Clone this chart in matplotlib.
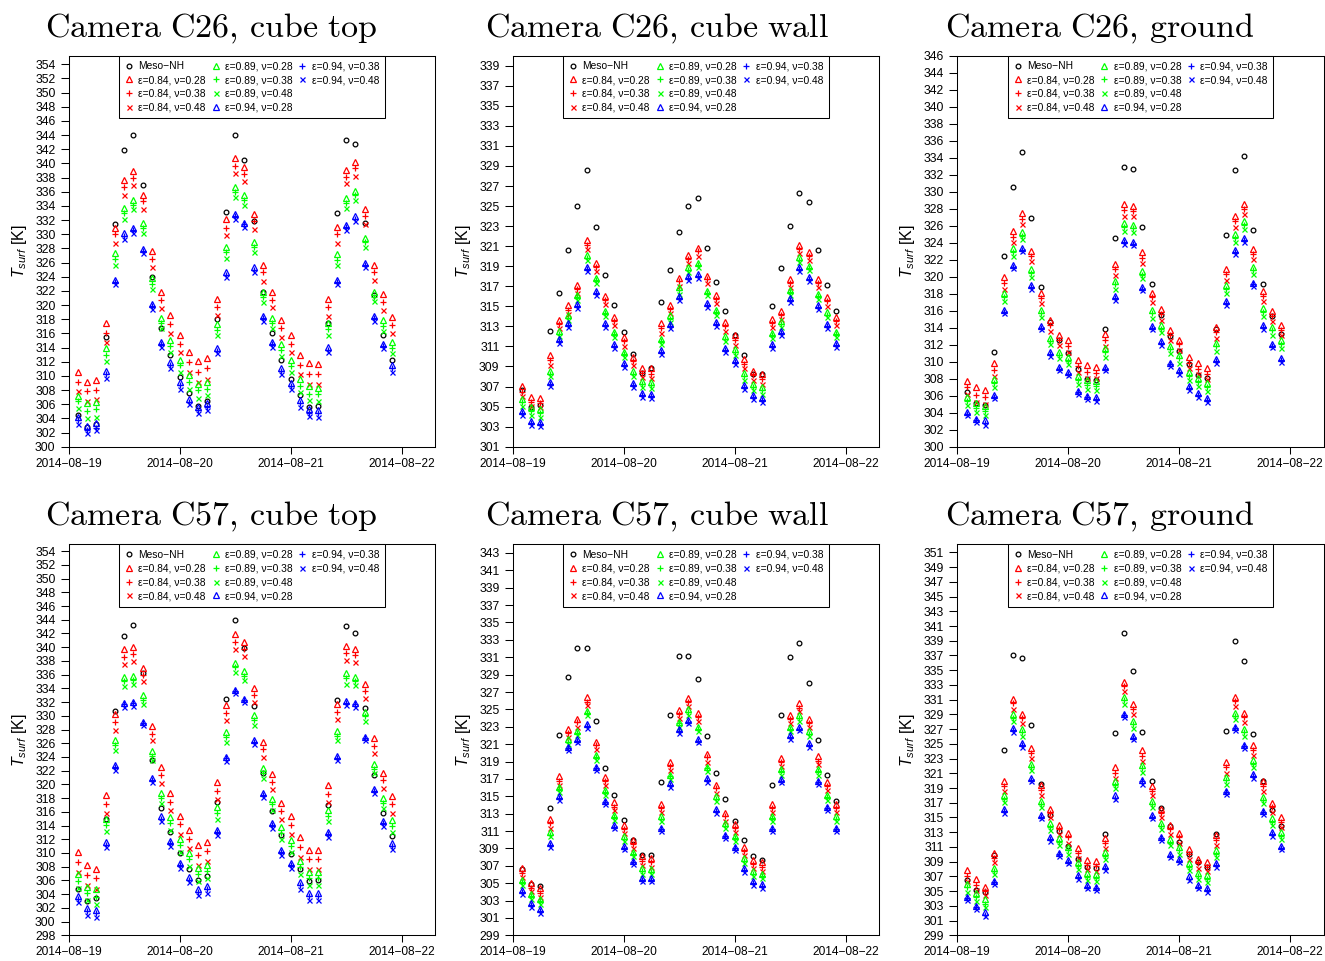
import matplotlib
matplotlib.use("Agg")
import matplotlib.pyplot as plt
import matplotlib.dates as mdates
import pandas as pd
from matplotlib.lines import Line2D

plt.rcParams["font.family"] = ["Liberation Sans", "DejaVu Sans"]
plt.rcParams["mathtext.fontset"] = "custom"
plt.rcParams["mathtext.rm"] = "Liberation Sans"
plt.rcParams["mathtext.it"] = "Liberation Sans:italic"

# surface temperature every 2 h, 19 Aug 02:00 -> 21 Aug 22:00
times = pd.date_range("2014-08-19 02:00", "2014-08-21 22:00", freq="2h")
day_ticks = pd.to_datetime(["2014-08-19", "2014-08-20", "2014-08-21", "2014-08-22"])
day_labels = ["2014\u221208\u221219", "2014\u221208\u221220", "2014\u221208\u221221", "2014\u221208\u221222"]

# ---- C26, cube top
c26_top_meso = [304.5, 302.8, 303.2, 315.5, 331.5, 341.9, 344.0, 337.0, 324.0, 316.8, 313.0, 309.8, 307.6, 305.8, 306.5, 318.0, 333.2, 344.0, 340.5, 331.9, 321.8, 316.1, 312.3, 309.5, 307.3, 305.6, 305.7, 317.4, 333.0, 343.3, 342.7, 331.6, 321.4, 315.7, 312.2]
c26_top_e84v28 = [310.6, 309.2, 309.4, 317.4, 330.9, 337.6, 338.9, 335.6, 327.6, 321.8, 318.6, 315.8, 313.3, 312.1, 312.5, 320.9, 332.1, 340.7, 339.5, 332.9, 325.6, 321.8, 317.9, 315.8, 313.0, 311.8, 311.7, 320.9, 331.0, 339.1, 340.2, 333.5, 325.6, 321.5, 318.3]
c26_top_e84v38 = [309.2, 307.8, 308.0, 316.1, 330.0, 336.6, 338.0, 334.7, 326.5, 320.7, 317.3, 314.5, 312.0, 310.6, 311.1, 319.7, 330.9, 339.6, 338.5, 331.9, 324.6, 320.7, 316.7, 314.5, 311.6, 310.3, 310.2, 319.7, 330.0, 338.1, 339.3, 332.6, 324.6, 320.4, 317.2]
c26_top_e84v48 = [307.9, 306.4, 306.7, 314.8, 328.8, 335.5, 336.9, 333.6, 325.4, 319.6, 316.1, 313.3, 310.6, 309.2, 309.6, 318.6, 329.9, 338.6, 337.5, 330.8, 323.4, 319.7, 315.5, 313.3, 310.3, 308.9, 308.8, 318.5, 328.8, 337.2, 338.2, 331.5, 323.5, 319.3, 316.0]
c26_top_e89v28 = [307.2, 306.1, 306.3, 313.9, 327.3, 333.7, 334.8, 331.6, 323.8, 318.1, 315.1, 312.3, 310.1, 308.9, 309.2, 317.3, 328.2, 336.7, 335.5, 328.9, 321.9, 318.2, 314.5, 312.2, 309.6, 308.5, 308.3, 317.4, 327.2, 335.1, 336.1, 329.5, 321.9, 317.9, 314.8]
c26_top_e89v38 = [306.4, 305.1, 305.3, 313.0, 326.5, 333.0, 334.1, 330.9, 323.0, 317.4, 314.2, 311.5, 309.2, 308.0, 308.2, 316.5, 327.5, 336.0, 334.8, 328.2, 321.2, 317.4, 313.6, 311.4, 308.6, 307.5, 307.4, 316.6, 326.4, 334.4, 335.5, 328.9, 321.2, 317.1, 314.0]
c26_top_e89v48 = [305.4, 304.1, 304.2, 312.1, 325.7, 332.2, 333.5, 330.2, 322.3, 316.7, 313.4, 310.6, 308.2, 306.9, 307.3, 315.7, 326.7, 335.3, 334.1, 327.5, 320.4, 316.7, 312.8, 310.5, 307.7, 306.6, 306.4, 315.7, 325.6, 333.7, 334.8, 328.2, 320.5, 316.3, 313.2]
c26_top_e94v28 = [304.2, 302.9, 303.3, 310.7, 323.6, 330.1, 330.9, 327.9, 320.2, 314.8, 311.9, 309.2, 306.8, 305.6, 306.1, 313.9, 324.6, 332.8, 331.6, 325.3, 318.4, 314.8, 311.1, 309.0, 306.6, 305.3, 305.2, 314.1, 323.6, 331.3, 332.5, 326.0, 318.4, 314.5, 311.5]
c26_top_e94v38 = [303.8, 302.4, 302.7, 310.2, 323.3, 329.7, 330.6, 327.6, 319.9, 314.5, 311.5, 308.7, 306.3, 305.2, 305.6, 313.5, 324.3, 332.5, 331.4, 325.0, 318.1, 314.5, 310.7, 308.6, 306.1, 304.8, 304.7, 313.6, 323.3, 331.0, 332.2, 325.6, 318.1, 314.2, 311.1]
c26_top_e94v48 = [303.2, 302.0, 302.3, 309.7, 322.9, 329.3, 330.2, 327.3, 319.5, 314.1, 311.1, 308.2, 306.0, 304.7, 305.2, 313.2, 323.9, 332.1, 331.0, 324.7, 317.8, 314.1, 310.3, 308.1, 305.6, 304.3, 304.2, 313.3, 322.9, 330.6, 331.8, 325.3, 317.8, 313.9, 310.6]

# ---- C26, cube wall
c26_wall_meso = [306.7, 305.0, 305.2, 312.5, 316.3, 320.6, 325.0, 328.6, 322.9, 318.1, 315.1, 312.4, 310.2, 308.4, 308.8, 315.4, 318.6, 322.4, 325.0, 325.8, 320.8, 317.4, 314.5, 312.1, 310.1, 308.3, 308.3, 315.0, 318.8, 323.0, 326.3, 325.4, 320.6, 317.1, 314.5]
c26_wall_e84v28 = [307.1, 306.0, 305.9, 310.1, 313.6, 315.1, 317.1, 321.6, 319.3, 316.0, 313.9, 311.9, 309.9, 308.8, 308.8, 313.3, 315.1, 317.8, 320.1, 320.8, 318.0, 316.1, 313.4, 312.1, 309.7, 308.6, 308.3, 313.7, 314.5, 317.7, 321.1, 320.4, 317.7, 315.9, 313.9]
c26_wall_e84v38 = [306.5, 305.5, 305.4, 309.6, 313.2, 314.6, 316.7, 321.1, 318.9, 315.6, 313.5, 311.5, 309.5, 308.4, 308.3, 312.8, 314.7, 317.5, 319.7, 320.5, 317.7, 315.7, 313.0, 311.6, 309.2, 308.2, 307.8, 313.3, 314.1, 317.3, 320.7, 320.0, 317.3, 315.5, 313.5]
c26_wall_e84v48 = [306.1, 305.1, 305.0, 309.1, 312.8, 314.2, 316.3, 320.7, 318.5, 315.2, 313.1, 311.0, 309.1, 308.0, 307.9, 312.3, 314.3, 317.0, 319.3, 320.0, 317.3, 315.3, 312.5, 311.1, 308.8, 307.7, 307.3, 312.9, 313.7, 316.9, 320.3, 319.6, 316.9, 315.0, 313.1]
c26_wall_e89v28 = [305.8, 305.0, 304.8, 308.6, 312.5, 314.1, 316.1, 320.1, 317.8, 314.5, 312.4, 310.4, 308.6, 307.6, 307.5, 311.7, 314.1, 316.9, 318.9, 319.3, 316.5, 314.6, 312.0, 310.7, 308.4, 307.3, 307.0, 312.3, 313.5, 316.6, 319.9, 319.0, 316.2, 314.4, 312.4]
c26_wall_e89v38 = [305.5, 304.6, 304.4, 308.3, 312.2, 313.8, 315.9, 319.8, 317.6, 314.3, 312.2, 310.2, 308.3, 307.3, 307.2, 311.5, 313.7, 316.6, 318.6, 319.1, 316.3, 314.4, 311.7, 310.4, 308.1, 307.0, 306.7, 312.1, 313.2, 316.4, 319.6, 318.8, 316.0, 314.1, 312.2]
c26_wall_e89v48 = [305.1, 304.2, 304.0, 308.1, 312.0, 313.6, 315.6, 319.6, 317.3, 314.0, 311.9, 309.9, 308.1, 307.0, 306.9, 311.2, 313.4, 316.2, 318.4, 318.9, 316.1, 314.1, 311.5, 310.1, 307.7, 306.7, 306.3, 311.8, 312.9, 316.1, 319.4, 318.6, 315.7, 313.9, 311.9]
c26_wall_e94v28 = [304.6, 303.6, 303.5, 307.5, 311.7, 313.3, 315.2, 318.9, 316.5, 313.3, 311.2, 309.3, 307.4, 306.4, 306.3, 310.6, 313.2, 316.0, 318.0, 318.2, 315.3, 313.4, 310.8, 309.6, 307.2, 306.2, 305.9, 311.2, 312.5, 315.8, 318.9, 317.9, 315.1, 313.2, 311.3]
c26_wall_e94v38 = [304.4, 303.4, 303.3, 307.3, 311.5, 313.1, 315.0, 318.7, 316.3, 313.1, 311.0, 309.1, 307.2, 306.2, 306.1, 310.4, 313.0, 315.8, 317.8, 318.0, 315.1, 313.2, 310.6, 309.4, 307.0, 306.0, 305.7, 311.0, 312.3, 315.6, 318.7, 317.7, 314.9, 313.0, 311.1]
c26_wall_e94v48 = [304.2, 303.2, 303.1, 307.1, 311.3, 312.9, 314.8, 318.5, 316.1, 312.9, 310.8, 308.9, 307.0, 306.0, 305.9, 310.2, 312.8, 315.6, 317.6, 317.8, 314.9, 313.0, 310.4, 309.2, 306.8, 305.8, 305.5, 310.8, 312.1, 315.4, 318.5, 317.5, 314.7, 312.8, 310.9]

# ---- C26, ground
c26_grd_meso = [306.4, 305.1, 304.9, 311.1, 322.4, 330.5, 334.7, 326.9, 318.8, 314.7, 312.6, 311.0, 309.1, 308.0, 307.9, 313.8, 324.5, 332.9, 332.7, 325.9, 319.2, 315.5, 313.0, 311.3, 309.7, 308.4, 308.1, 313.9, 324.9, 332.5, 334.2, 325.5, 319.1, 315.4, 313.3]
c26_grd_e84v28 = [307.7, 307.0, 306.7, 309.8, 320.0, 325.4, 327.5, 323.0, 318.1, 314.9, 313.2, 312.6, 310.2, 309.6, 309.4, 313.3, 321.5, 328.5, 328.3, 322.9, 318.1, 316.2, 313.7, 312.6, 310.6, 309.9, 309.3, 314.1, 320.9, 327.1, 328.6, 323.3, 318.3, 316.0, 314.3]
c26_grd_e84v38 = [307.0, 306.1, 305.8, 309.0, 319.3, 324.7, 326.8, 322.4, 317.5, 314.3, 312.6, 311.9, 309.5, 308.8, 308.7, 312.6, 320.9, 327.8, 327.7, 322.2, 317.6, 315.6, 313.1, 312.1, 309.9, 309.2, 308.6, 313.5, 320.3, 326.5, 328.0, 322.7, 317.7, 315.4, 313.7]
c26_grd_e84v48 = [306.2, 305.3, 305.0, 308.3, 318.6, 324.1, 326.2, 321.8, 316.9, 313.6, 312.0, 311.2, 308.8, 308.1, 308.1, 311.9, 320.2, 327.2, 327.1, 321.6, 317.0, 314.9, 312.6, 311.4, 309.3, 308.6, 308.0, 312.8, 319.6, 325.9, 327.4, 322.1, 317.1, 314.8, 313.2]
c26_grd_e89v28 = [305.9, 305.1, 304.8, 308.0, 318.1, 323.4, 325.3, 320.9, 316.1, 312.8, 311.2, 310.5, 308.3, 307.8, 307.7, 311.6, 319.5, 326.3, 326.1, 320.7, 316.1, 314.3, 311.9, 310.8, 308.8, 308.1, 307.5, 312.2, 319.0, 325.0, 326.5, 321.2, 316.3, 314.1, 312.5]
c26_grd_e89v38 = [305.4, 304.6, 304.2, 307.5, 317.6, 322.9, 324.8, 320.4, 315.7, 312.4, 310.8, 310.1, 307.9, 307.3, 307.2, 311.1, 319.1, 325.8, 325.7, 320.2, 315.7, 313.9, 311.5, 310.4, 308.3, 307.6, 307.0, 311.8, 318.5, 324.6, 326.1, 320.8, 315.9, 313.7, 312.1]
c26_grd_e89v48 = [304.9, 304.1, 303.7, 307.0, 317.1, 322.4, 324.4, 320.0, 315.3, 312.1, 310.4, 309.7, 307.4, 306.8, 306.7, 310.6, 318.6, 325.4, 325.3, 319.8, 315.2, 313.5, 311.0, 309.9, 307.9, 307.1, 306.5, 311.3, 318.1, 324.1, 325.6, 320.3, 315.4, 313.2, 311.6]
c26_grd_e94v28 = [304.1, 303.3, 303.1, 306.1, 316.1, 321.4, 323.4, 319.0, 314.2, 311.1, 309.4, 308.8, 306.6, 306.0, 305.8, 309.4, 317.7, 324.3, 324.1, 318.8, 314.2, 312.4, 309.9, 309.0, 307.1, 306.3, 305.7, 310.3, 317.1, 323.1, 324.5, 319.3, 314.3, 312.1, 310.4]
c26_grd_e94v38 = [303.9, 303.1, 302.8, 305.9, 315.9, 321.2, 323.2, 318.8, 314.0, 310.9, 309.2, 308.6, 306.4, 305.8, 305.6, 309.2, 317.5, 324.1, 323.9, 318.6, 314.0, 312.2, 309.7, 308.8, 306.9, 306.1, 305.5, 310.1, 316.9, 322.9, 324.3, 319.1, 314.1, 311.9, 310.2]
c26_grd_e94v48 = [303.7, 302.9, 302.6, 305.7, 315.7, 321.0, 323.0, 318.6, 313.8, 310.7, 309.0, 308.4, 306.2, 305.6, 305.4, 309.0, 317.3, 323.9, 323.7, 318.4, 313.8, 312.0, 309.5, 308.6, 306.7, 305.9, 305.3, 309.9, 316.7, 322.7, 324.1, 318.9, 313.9, 311.7, 310.0]

# ---- C57, cube top
c57_top_meso = [304.8, 303.0, 303.5, 314.9, 330.7, 341.6, 343.3, 336.3, 323.5, 316.6, 313.1, 310.0, 307.7, 306.0, 306.7, 317.5, 332.4, 343.9, 339.9, 331.4, 321.6, 316.1, 312.6, 309.8, 307.6, 305.9, 306.0, 317.0, 332.3, 343.1, 342.0, 331.2, 321.4, 315.8, 312.5]
c57_top_e84v28 = [310.2, 308.2, 307.7, 318.4, 330.2, 339.7, 340.0, 337.0, 328.5, 322.5, 318.7, 315.4, 313.3, 311.1, 311.6, 320.3, 331.6, 341.9, 340.7, 334.1, 326.2, 321.5, 317.3, 315.4, 312.3, 310.5, 310.5, 319.9, 331.7, 340.2, 339.8, 334.6, 326.7, 321.7, 318.3]
c57_top_e84v38 = [308.7, 306.8, 306.3, 317.1, 329.1, 338.6, 339.0, 336.0, 327.4, 321.4, 317.5, 314.2, 312.0, 309.7, 310.3, 319.1, 330.4, 340.8, 339.7, 333.1, 325.1, 320.4, 316.1, 314.1, 310.8, 309.1, 309.1, 318.6, 330.6, 339.2, 338.9, 333.6, 325.6, 320.6, 317.1]
c57_top_e84v48 = [307.3, 305.4, 304.8, 315.9, 328.0, 337.6, 338.0, 335.1, 326.4, 320.2, 316.3, 312.8, 310.7, 308.2, 308.8, 317.9, 329.4, 339.8, 338.7, 332.0, 324.0, 319.3, 314.9, 312.8, 309.4, 307.6, 307.6, 317.4, 329.5, 338.2, 337.9, 332.6, 324.6, 319.5, 315.9]
c57_top_e89v28 = [306.9, 305.1, 304.7, 314.9, 326.5, 335.7, 335.8, 333.0, 324.8, 318.8, 315.2, 312.0, 310.0, 307.8, 308.3, 316.7, 327.7, 337.7, 336.6, 330.1, 322.4, 317.8, 313.8, 311.9, 308.9, 307.3, 307.3, 316.3, 327.8, 336.2, 335.7, 330.6, 322.9, 318.0, 314.8]
c57_top_e89v38 = [305.9, 304.1, 303.6, 314.1, 325.7, 335.1, 335.2, 332.3, 324.1, 318.0, 314.3, 311.1, 309.1, 306.9, 307.4, 315.9, 326.9, 337.1, 335.8, 329.4, 321.7, 317.1, 312.9, 311.0, 307.9, 306.3, 306.3, 315.4, 327.0, 335.5, 335.1, 330.0, 322.2, 317.3, 314.0]
c57_top_e89v48 = [304.9, 303.1, 302.6, 313.2, 325.0, 334.3, 334.6, 331.7, 323.5, 317.3, 313.4, 310.2, 308.1, 305.9, 306.4, 315.0, 326.2, 336.4, 335.2, 328.7, 321.0, 316.3, 312.1, 310.2, 307.0, 305.3, 305.3, 314.7, 326.4, 334.7, 334.5, 329.3, 321.6, 316.5, 313.1]
c57_top_e94v28 = [303.7, 302.0, 301.7, 311.6, 322.8, 331.9, 332.0, 329.1, 321.0, 315.4, 311.7, 308.6, 306.5, 304.8, 305.2, 313.3, 324.0, 333.8, 332.5, 326.5, 318.8, 314.4, 310.4, 308.6, 305.8, 304.2, 304.2, 313.1, 324.1, 332.2, 331.9, 326.9, 319.4, 314.6, 311.4]
c57_top_e94v38 = [303.3, 301.5, 301.2, 311.2, 322.5, 331.7, 331.8, 328.9, 320.7, 315.0, 311.4, 308.2, 306.1, 304.3, 304.7, 313.0, 323.8, 333.6, 332.3, 326.2, 318.4, 314.1, 310.1, 308.2, 305.3, 303.7, 303.7, 312.7, 323.9, 331.9, 331.7, 326.7, 319.1, 314.3, 311.0]
c57_top_e94v48 = [302.8, 301.0, 300.7, 310.9, 322.1, 331.3, 331.5, 328.6, 320.4, 314.7, 311.0, 307.8, 305.8, 303.9, 304.2, 312.6, 323.4, 333.3, 332.0, 325.9, 318.1, 313.7, 309.7, 307.8, 304.8, 303.2, 303.2, 312.3, 323.5, 331.6, 331.3, 326.4, 318.7, 313.9, 310.6]

# ---- C57, cube wall
c57_wall_meso = [306.6, 304.9, 304.7, 313.6, 322.0, 328.7, 332.1, 332.1, 323.7, 318.3, 315.1, 312.3, 310.0, 308.2, 308.2, 316.6, 324.4, 331.2, 331.2, 328.5, 321.9, 317.7, 314.7, 312.2, 310.0, 308.1, 307.7, 316.3, 324.3, 331.0, 332.6, 328.0, 321.5, 317.4, 314.5]
c57_wall_e84v28 = [306.7, 305.0, 304.4, 312.4, 317.3, 322.8, 323.9, 326.4, 321.3, 317.2, 314.3, 311.7, 310.0, 308.1, 307.9, 314.1, 318.9, 324.9, 326.3, 324.6, 319.9, 316.3, 313.1, 311.8, 309.2, 307.7, 307.4, 314.1, 319.4, 324.3, 325.7, 323.9, 319.6, 316.6, 314.1]
c57_wall_e84v38 = [306.2, 304.5, 303.9, 311.9, 316.8, 322.3, 323.5, 325.9, 320.9, 316.8, 313.8, 311.2, 309.5, 307.6, 307.4, 313.7, 318.5, 324.5, 325.8, 324.1, 319.5, 315.9, 312.7, 311.3, 308.7, 307.2, 306.9, 313.7, 318.9, 323.9, 325.2, 323.4, 319.1, 316.2, 313.6]
c57_wall_e84v48 = [305.7, 304.1, 303.4, 311.4, 316.3, 321.8, 323.0, 325.5, 320.4, 316.3, 313.4, 310.8, 309.0, 307.1, 306.9, 313.2, 318.0, 324.0, 325.4, 323.7, 319.0, 315.4, 312.2, 310.9, 308.2, 306.7, 306.4, 313.2, 318.5, 323.4, 324.8, 323.0, 318.7, 315.7, 313.2]
c57_wall_e89v28 = [305.4, 303.8, 303.2, 310.9, 316.1, 321.6, 322.5, 324.8, 319.8, 315.7, 312.9, 310.4, 308.6, 306.8, 306.6, 312.7, 317.5, 323.6, 325.0, 323.0, 318.4, 315.0, 311.9, 310.4, 307.9, 306.4, 306.1, 312.7, 318.1, 323.0, 324.3, 322.5, 318.1, 315.2, 312.7]
c57_wall_e89v38 = [305.1, 303.5, 302.9, 310.6, 315.8, 321.3, 322.3, 324.6, 319.5, 315.5, 312.6, 310.1, 308.3, 306.4, 306.3, 312.4, 317.3, 323.4, 324.7, 322.8, 318.2, 314.7, 311.6, 310.2, 307.6, 306.1, 305.8, 312.5, 317.9, 322.8, 324.0, 322.2, 317.9, 314.9, 312.4]
c57_wall_e89v48 = [304.8, 303.2, 302.6, 310.4, 315.5, 321.0, 322.0, 324.3, 319.2, 315.2, 312.3, 309.8, 308.1, 306.1, 306.0, 312.1, 317.0, 323.0, 324.4, 322.5, 317.9, 314.4, 311.3, 309.9, 307.3, 305.8, 305.6, 312.2, 317.5, 322.5, 323.7, 321.9, 317.5, 314.6, 312.1]
c57_wall_e94v28 = [304.2, 302.7, 302.0, 309.6, 315.0, 320.7, 321.6, 323.3, 318.4, 314.5, 311.7, 309.3, 307.6, 305.6, 305.6, 311.4, 316.5, 322.7, 323.8, 321.6, 317.1, 313.5, 310.6, 309.2, 306.7, 305.2, 304.9, 311.4, 317.0, 322.0, 323.0, 321.1, 316.8, 313.8, 311.4]
c57_wall_e94v38 = [304.0, 302.5, 301.8, 309.4, 314.8, 320.5, 321.4, 323.1, 318.2, 314.3, 311.5, 309.1, 307.4, 305.4, 305.4, 311.2, 316.3, 322.5, 323.6, 321.4, 316.9, 313.3, 310.4, 309.0, 306.5, 305.0, 304.7, 311.2, 316.8, 321.8, 322.8, 320.9, 316.6, 313.6, 311.2]
c57_wall_e94v48 = [303.8, 302.3, 301.6, 309.2, 314.6, 320.3, 321.2, 322.9, 318.0, 314.1, 311.3, 308.9, 307.2, 305.2, 305.2, 311.0, 316.1, 322.3, 323.4, 321.2, 316.7, 313.1, 310.2, 308.8, 306.3, 304.8, 304.5, 311.0, 316.6, 321.6, 322.6, 320.7, 316.4, 313.4, 311.0]

# ---- C57, ground
c57_grd_meso = [306.5, 305.1, 304.9, 309.9, 324.2, 337.1, 336.7, 327.6, 319.5, 315.3, 313.2, 311.1, 309.4, 308.3, 308.1, 312.7, 326.5, 340.1, 334.9, 326.6, 319.9, 316.3, 313.8, 311.7, 310.1, 308.9, 308.3, 312.8, 326.7, 339.0, 336.2, 326.4, 319.9, 316.0, 313.8]
c57_grd_e84v28 = [307.9, 306.6, 305.6, 310.2, 320.0, 331.1, 329.1, 324.4, 319.4, 316.1, 314.0, 312.9, 310.9, 309.2, 309.1, 312.2, 321.8, 333.4, 330.4, 324.1, 319.3, 316.2, 314.0, 312.9, 310.7, 309.4, 308.9, 312.6, 322.5, 331.4, 329.2, 324.8, 319.9, 317.0, 315.0]
c57_grd_e84v38 = [307.1, 305.8, 305.0, 309.5, 319.3, 330.5, 328.5, 323.8, 318.8, 315.6, 313.4, 312.3, 310.2, 308.6, 308.4, 311.5, 321.1, 332.8, 329.7, 323.4, 318.6, 315.6, 313.4, 312.3, 310.0, 308.8, 308.3, 311.9, 321.8, 330.8, 328.6, 324.2, 319.3, 316.4, 314.4]
c57_grd_e84v48 = [306.4, 305.1, 304.5, 308.9, 318.6, 329.8, 327.8, 323.1, 318.1, 315.0, 312.7, 311.6, 309.5, 308.0, 307.8, 310.8, 320.4, 332.2, 329.1, 322.7, 318.0, 315.0, 312.7, 311.6, 309.4, 308.2, 307.8, 311.2, 321.1, 330.1, 327.9, 323.5, 318.6, 315.7, 313.7]
c57_grd_e89v28 = [306.0, 304.8, 303.9, 308.2, 318.0, 329.0, 327.0, 322.3, 317.2, 314.2, 312.2, 311.0, 308.9, 307.4, 307.3, 310.3, 319.9, 331.3, 328.1, 322.1, 317.3, 314.3, 312.1, 311.0, 308.8, 307.5, 307.2, 310.6, 320.5, 329.2, 327.0, 322.8, 317.8, 314.9, 313.0]
c57_grd_e89v38 = [305.5, 304.2, 303.3, 307.8, 317.5, 328.5, 326.6, 321.9, 316.8, 313.7, 311.7, 310.6, 308.4, 306.9, 306.8, 309.8, 319.4, 330.9, 327.7, 321.7, 316.8, 313.9, 311.6, 310.6, 308.3, 307.1, 306.7, 310.1, 320.1, 328.8, 326.6, 322.3, 317.4, 314.4, 312.5]
c57_grd_e89v48 = [304.9, 303.7, 302.8, 307.3, 317.1, 328.1, 326.1, 321.4, 316.4, 313.3, 311.3, 310.1, 308.0, 306.5, 306.4, 309.4, 319.0, 330.4, 327.2, 321.2, 316.4, 313.4, 311.2, 310.1, 307.9, 306.6, 306.3, 309.7, 319.6, 328.4, 326.1, 321.9, 316.9, 314.0, 312.1]
c57_grd_e94v28 = [304.2, 303.0, 302.1, 306.4, 316.1, 327.1, 325.1, 320.3, 315.3, 312.3, 310.2, 309.2, 307.2, 305.8, 305.6, 308.4, 318.0, 329.1, 326.1, 320.1, 315.3, 312.4, 310.0, 309.3, 307.0, 305.8, 305.4, 308.8, 318.6, 327.3, 324.9, 320.9, 315.9, 313.0, 311.1]
c57_grd_e94v38 = [304.0, 302.8, 301.8, 306.2, 315.9, 326.9, 324.8, 320.1, 315.1, 312.1, 310.0, 309.0, 306.9, 305.6, 305.4, 308.2, 317.7, 328.9, 325.8, 319.9, 315.1, 312.2, 309.8, 309.1, 306.7, 305.6, 305.1, 308.5, 318.4, 327.1, 324.7, 320.6, 315.7, 312.7, 310.9]
c57_grd_e94v48 = [303.8, 302.6, 301.6, 306.0, 315.6, 326.6, 324.6, 319.9, 314.9, 311.8, 309.8, 308.8, 306.7, 305.4, 305.1, 307.9, 317.5, 328.7, 325.6, 319.6, 314.9, 311.9, 309.6, 308.9, 306.5, 305.4, 304.9, 308.3, 318.2, 326.9, 324.5, 320.4, 315.5, 312.5, 310.7]

# legend text and marker style for each run
run_labels = ["Meso\u2212NH",
              "\u03b5=0.84, \u03bd=0.28", "\u03b5=0.84, \u03bd=0.38", "\u03b5=0.84, \u03bd=0.48",
              "\u03b5=0.89, \u03bd=0.28", "\u03b5=0.89, \u03bd=0.38", "\u03b5=0.89, \u03bd=0.48",
              "\u03b5=0.94, \u03bd=0.28", "\u03b5=0.94, \u03bd=0.38", "\u03b5=0.94, \u03bd=0.48"]
run_colors = ["black", "#ff0000", "#ff0000", "#ff0000", "#00ff00", "#00ff00", "#00ff00",
              "#0000ff", "#0000ff", "#0000ff"]
run_markers = ["o", "^", "+", "x", "^", "+", "x", "^", "+", "x"]
marker_size = {"o": 3.4, "^": 3.8, "+": 4.6, "x": 3.6}

panels = [
    ("Camera\\ C26,\\!\\ cube\\ top", [c26_top_meso, c26_top_e84v28, c26_top_e84v38, c26_top_e84v48,
      c26_top_e89v28, c26_top_e89v38, c26_top_e89v48, c26_top_e94v28, c26_top_e94v38, c26_top_e94v48],
     (300, 355.2), range(300, 355, 2)),
    ("Camera\\ C26,\\!\\ cube\\ wall", [c26_wall_meso, c26_wall_e84v28, c26_wall_e84v38, c26_wall_e84v48,
      c26_wall_e89v28, c26_wall_e89v38, c26_wall_e89v48, c26_wall_e94v28, c26_wall_e94v38, c26_wall_e94v48],
     (301, 340.0), range(301, 340, 2)),
    ("Camera\\ C26,\\!\\ ground", [c26_grd_meso, c26_grd_e84v28, c26_grd_e84v38, c26_grd_e84v48,
      c26_grd_e89v28, c26_grd_e89v38, c26_grd_e89v48, c26_grd_e94v28, c26_grd_e94v38, c26_grd_e94v48],
     (300, 346.0), range(300, 347, 2)),
    ("Camera\\ C57,\\!\\ cube\\ top", [c57_top_meso, c57_top_e84v28, c57_top_e84v38, c57_top_e84v48,
      c57_top_e89v28, c57_top_e89v38, c57_top_e89v48, c57_top_e94v28, c57_top_e94v38, c57_top_e94v48],
     (298, 355.0), range(298, 355, 2)),
    ("Camera\\ C57,\\!\\ cube\\ wall", [c57_wall_meso, c57_wall_e84v28, c57_wall_e84v38, c57_wall_e84v48,
      c57_wall_e89v28, c57_wall_e89v38, c57_wall_e89v48, c57_wall_e94v28, c57_wall_e94v38, c57_wall_e94v48],
     (299, 344.0), range(299, 344, 2)),
    ("Camera\\ C57,\\!\\ ground", [c57_grd_meso, c57_grd_e84v28, c57_grd_e84v38, c57_grd_e84v48,
      c57_grd_e89v28, c57_grd_e89v38, c57_grd_e89v48, c57_grd_e94v28, c57_grd_e94v38, c57_grd_e94v48],
     (299, 352.1), range(299, 352, 2)),
]

W, H = 1325, 961
fig = plt.figure(figsize=(W / 100, H / 100), dpi=100)

col_left = [68.7, 512.7, 957.3]
row_top = [55.7, 544.3]
ax_w, ax_h = 366.3, 391.0
title_x = [211.5, 656.5, 1099.5]
title_base = [37.0, 525.6]

xmin = pd.Timestamp("2014-08-19 00:00")
xmax = xmin + pd.Timedelta(hours=3.3 * 24)
tnum = mdates.date2num(times.to_pydatetime())

for k, (title, series, ylim, yticks) in enumerate(panels):
    r, c = divmod(k, 3)
    ax = fig.add_axes([col_left[c] / W, 1 - (row_top[r] + ax_h) / H, ax_w / W, ax_h / H])

    for vals, col, mk in zip(series, run_colors, run_markers):
        ax.plot(tnum, vals, linestyle="none", marker=mk, markersize=marker_size[mk],
                markerfacecolor="none", markeredgecolor=col, markeredgewidth=0.9)

    ax.set_xlim(mdates.date2num(xmin), mdates.date2num(xmax))
    ax.set_ylim(*ylim)
    ax.set_xticks(mdates.date2num(day_ticks.to_pydatetime()))
    ax.set_xticklabels(day_labels)
    ax.set_yticks(list(yticks))
    ax.tick_params(axis="y", direction="out", length=5.5, width=0.75, labelsize=8.8, pad=4)
    ax.tick_params(axis="x", direction="out", length=4.8, width=0.75, labelsize=8.6, pad=3)
    for sp in ax.spines.values():
        sp.set_linewidth(0.75)
        sp.set_color("black")

    ax.set_ylabel(r"$T_{surf}$ [K]", fontsize=11.5)
    ax.yaxis.set_label_coords(-40.0 / ax_w, 0.5)

    handles = [Line2D([], [], linestyle="none", marker=mk, markersize=marker_size[mk],
                      markerfacecolor="none", markeredgecolor=col, markeredgewidth=0.9)
               for col, mk in zip(run_colors, run_markers)]
    labels = list(run_labels)
    # two empty slots so the columns split 4 / 4 / 2
    handles += [Line2D([], [], linestyle="none")] * 2
    labels += ["", ""]
    leg = ax.legend(handles, labels, loc="upper center", bbox_to_anchor=(0.5, 1.0),
                    ncol=3, fontsize=7.4, frameon=True, fancybox=False, framealpha=1,
                    edgecolor="black", borderaxespad=0, borderpad=0.55,
                    labelspacing=0.36, handlelength=0.9, handletextpad=0.45,
                    columnspacing=0.5)
    leg.get_frame().set_linewidth(0.75)

    fig.text(title_x[c] / W, 1 - title_base[r] / H, r"$\mathrm{" + title + "}$",
             fontsize=24.5, math_fontfamily="cm", ha="center", va="baseline")

fig.savefig("out.png", dpi=100)
